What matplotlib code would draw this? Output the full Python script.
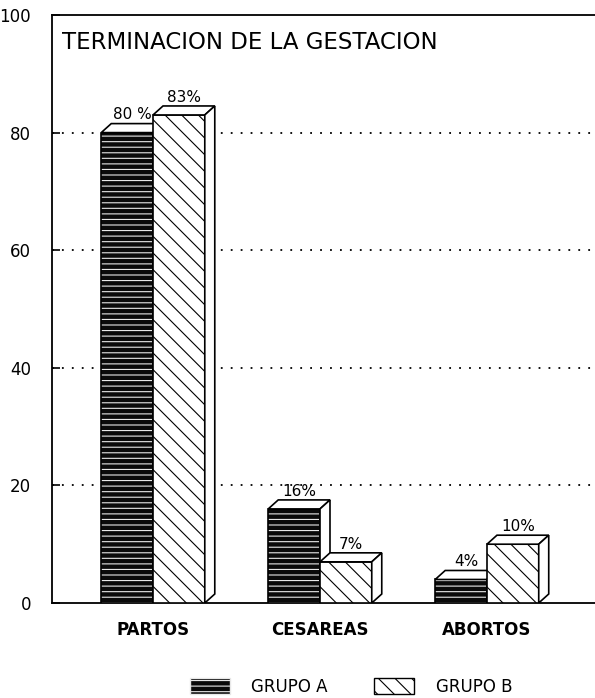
#!/usr/bin/env python3
# -*- coding: utf-8 -*-

"""Barras 3D: terminacion de la gestacion por grupo."""

import matplotlib
matplotlib.use('Agg')
import matplotlib.pyplot as plt
from matplotlib.patches import Polygon, Rectangle
import numpy as np

# Datos
categorias = ['PARTOS', 'CESAREAS', 'ABORTOS']
grupo_a = [80, 16, 4]
grupo_b = [83, 7, 10]
etiquetas_a = ['80 %', '16%', '4%']
etiquetas_b = ['83%', '7%', '10%']
yticks = [0, 20, 40, 60, 80, 100]

plt.rcParams['font.family'] = ['DejaVu Sans']
plt.rcParams['hatch.linewidth'] = 0.8

fig = plt.figure(figsize=(5.95, 6.98), dpi=100)
ax = fig.add_axes([52 / 595, 1 - 603 / 698, 543 / 595, 588 / 698])

ax.set_xlim(-0.605, 2.647)
ax.set_ylim(0, 100)

# Ancho de barra y profundidad del efecto 3D (unidades de datos)
w = 0.31
dx = 10 / 167
dy = 9 / 5.88


def barra(x0, h, cara, trama, borde_trama):
    """Dibuja una barra con cara frontal, tapa y lateral."""
    x1 = x0 + w
    # cara frontal
    ax.add_patch(Rectangle((x0, 0), w, h, facecolor=cara, edgecolor=borde_trama,
                           hatch=trama, linewidth=0, zorder=3))
    ax.add_patch(Rectangle((x0, 0), w, h, facecolor='none', edgecolor='black',
                           linewidth=1.2, zorder=3))
    # tapa
    ax.add_patch(Polygon([(x0, h), (x0 + dx, h + dy), (x1 + dx, h + dy), (x1, h)],
                         closed=True, facecolor='white', edgecolor='black',
                         linewidth=1.2, zorder=3))
    # lateral
    ax.add_patch(Polygon([(x1, 0), (x1 + dx, dy), (x1 + dx, h + dy), (x1, h)],
                         closed=True, facecolor='white', edgecolor='black',
                         linewidth=1.2, zorder=3))


x = np.arange(len(categorias))
for i in range(len(categorias)):
    barra(x[i] - w, grupo_a[i], '#0a0a0a', '---', '#e8e8e8')
    barra(x[i], grupo_b[i], 'white', '\\\\', 'black')
    ax.text(x[i] - w / 2 + dx / 2, grupo_a[i] + dy + 0.2, etiquetas_a[i],
            ha='center', va='bottom', fontsize=11, zorder=4)
    ax.text(x[i] + w / 2 + dx / 2, grupo_b[i] + dy + 0.2, etiquetas_b[i],
            ha='center', va='bottom', fontsize=11, zorder=4)

# Rejilla punteada
ax.set_axisbelow(True)
for v in yticks[1:-1]:
    ax.axhline(v, color='black', linestyle=(0, (1, 4.5)), linewidth=1.3, zorder=1)

ax.set_yticks(yticks)
ax.set_yticklabels([str(v) for v in yticks], fontsize=12)
ax.tick_params(axis='y', direction='in', length=6, width=1.2, pad=15)
ax.set_xticks(x)
ax.set_xticklabels(categorias, fontsize=12, fontweight='bold')
ax.tick_params(axis='x', length=0, pad=13)

for lado in ['left', 'top', 'bottom']:
    ax.spines[lado].set_linewidth(1.3)
ax.spines['right'].set_visible(False)

ax.text(0.018, 0.954, 'TERMINACION DE LA GESTACION', transform=ax.transAxes,
        fontsize=16.5, ha='left', va='center')

# Leyenda
ha = Rectangle((0, 0), 1, 1, facecolor='#0a0a0a', edgecolor='#e8e8e8', hatch='---')
hb = Rectangle((0, 0), 1, 1, facecolor='white', edgecolor='black', hatch='\\\\')
fig.legend([ha, hb], ['GRUPO A', 'GRUPO B'], loc='center',
           bbox_to_anchor=(0.59, 0.016), ncol=2, frameon=False, fontsize=12,
           handlelength=2.4, handleheight=1.1, columnspacing=2.8, handletextpad=1.3)

fig.savefig('out.png', dpi=100)
